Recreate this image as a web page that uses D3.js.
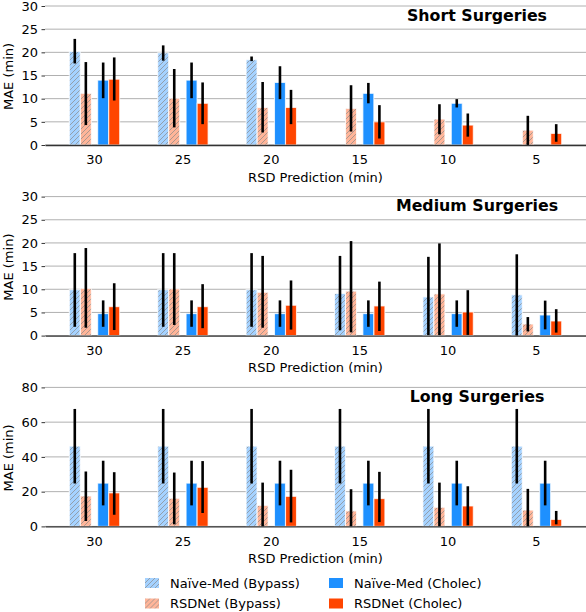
<!DOCTYPE html>
<html>
<head>
<meta charset="utf-8">
<script src="https://cdn.jsdelivr.net/npm/d3@7"></script>
<style>
  body { margin: 0; background: #fff; }
  text { font-family: "DejaVu Sans", sans-serif; }
</style>
</head>
<body>
<div id="chart"></div>
<script>
// x categories (RSD prediction horizon, minutes)
const rsdMinutes = [30, 25, 20, 15, 10, 5];

// short surgeries: bar values and [low, high] error bars
const shortNaiveBypass = [20.2, 19.9, 18.4, null, null, null];
const shortNaiveBypassErr = [[17.6, 22.9], [18.2, 21.5], [18.1, 19.1], null, null, null];
const shortRsdBypass = [11.15, 10.1, 8.1, 7.9, 5.6, 3.2];
const shortRsdBypassErr = [[4.3, 17.9], [3.8, 16.4], [2.7, 13.6], [2.9, 12.9], [2.3, 8.8], [0, 6.3]];
const shortNaiveCholec = [14.0, 14.0, 13.5, 11.15, 9.0, 0];
const shortNaiveCholecErr = [[10.1, 17.8], [10.1, 17.8], [9.9, 17.0], [9.0, 13.4], [8.1, 9.9], null];
const shortRsdCholec = [14.2, 9.0, 8.1, 5.0, 4.3, 2.5];
const shortRsdCholecErr = [[9.6, 18.9], [4.5, 13.5], [4.5, 11.9], [1.4, 8.6], [1.8, 6.8], [0.7, 4.5]];

// medium surgeries
const mediumNaiveBypass = [9.9, 9.9, 9.9, 9.1, 8.35, 8.8];
const mediumNaiveBypassErr = [[1.9, 17.8], [1.9, 17.8], [1.9, 17.8], [1.15, 17.2], [0.1, 17.0], [0, 17.55]];
const mediumRsdBypass = [10.2, 10.1, 9.35, 9.6, 9.0, 2.5];
const mediumRsdBypassErr = [[1.7, 18.9], [2.3, 17.8], [1.7, 17.2], [0.7, 20.4], [0.1, 19.9], [0.9, 4.0]];
const mediumNaiveCholec = [4.75, 4.75, 4.75, 4.75, 4.75, 4.45];
const mediumNaiveCholecErr = [[1.9, 7.6], [1.9, 7.6], [1.9, 7.6], [1.9, 7.6], [1.9, 7.6], [1.35, 7.55]];
const mediumRsdCholec = [6.25, 6.25, 6.55, 6.4, 5.1, 3.15];
const mediumRsdCholecErr = [[1.2, 11.3], [1.6, 11.1], [1.3, 11.9], [1.0, 11.65], [0.15, 9.8], [0.65, 5.7]];

// long surgeries
const longNaiveBypass = [46.2, 46.2, 46.2, 46.2, 46.2, 46.2];
const longNaiveBypassErr = [[24.7, 67.6], [24.7, 67.6], [24.7, 67.6], [24.7, 67.6], [24.7, 67.6], [24.7, 67.6]];
const longRsdBypass = [17.5, 16.2, 12.1, 8.9, 11.0, 9.4];
const longRsdBypassErr = [[3.1, 31.6], [1.2, 31.0], [0, 25.2], [0, 21.4], [0, 25.2], [0, 21.6]];
const longNaiveCholec = [24.9, 24.9, 24.9, 24.9, 24.9, 24.9];
const longNaiveCholecErr = [[12.1, 37.8], [12.1, 37.8], [12.1, 37.8], [12.1, 37.8], [12.1, 37.8], [12.1, 37.8]];
const longRsdCholec = [19.3, 22.5, 17.3, 16.0, 11.75, 4.0];
const longRsdCholecErr = [[6.7, 31.2], [7.7, 37.6], [2.3, 32.6], [2.5, 31.4], [0.6, 23.1], [1.2, 8.9]];

// y tick labels per panel
const shortTicks = [0, 5, 10, 15, 20, 25, 30];
const mediumTicks = [0, 5, 10, 15, 20, 25, 30];
const longTicks = [0, 20, 40, 60, 80];

const seriesNames = ["Naïve-Med (Bypass)", "RSDNet (Bypass)", "Naïve-Med (Cholec)", "RSDNet (Cholec)"];

// canvas sizes
const svgWidth = 586, svgHeight = 612;
const plotLeft = 45, plotRight = 586, plotHeight = 139;

// series look: offset in band, fill, hatched or not
const seriesStyle = [
  {offset: -0.223, fill: "#a5d2ff", hatch: "hatchBlue"},
  {offset: -0.098, fill: "#ffb599", hatch: "hatchOrange"},
  {offset: 0.098, fill: "#1e90ff", hatch: null},
  {offset: 0.223, fill: "#ff4500", hatch: null}
];
const barFrac = 0.124;

const panels = [
  {title: "Short Surgeries", top: 6, yMax: 30, ticks: shortTicks,
   values: [shortNaiveBypass, shortRsdBypass, shortNaiveCholec, shortRsdCholec],
   errs: [shortNaiveBypassErr, shortRsdBypassErr, shortNaiveCholecErr, shortRsdCholecErr]},
  {title: "Medium Surgeries", top: 196.6, yMax: 30, ticks: mediumTicks,
   values: [mediumNaiveBypass, mediumRsdBypass, mediumNaiveCholec, mediumRsdCholec],
   errs: [mediumNaiveBypassErr, mediumRsdBypassErr, mediumNaiveCholecErr, mediumRsdCholecErr]},
  {title: "Long Surgeries", top: 387.4, yMax: 80, ticks: longTicks,
   values: [longNaiveBypass, longRsdBypass, longNaiveCholec, longRsdCholec],
   errs: [longNaiveBypassErr, longRsdBypassErr, longNaiveCholecErr, longRsdCholecErr]}
];

var svg = d3.select("#chart")
    .append("svg")
    .attr("width", svgWidth)
    .attr("height", svgHeight);

// hatch patterns for the bypass bars
var defs = svg.append("defs");
[["hatchBlue", "#a5d2ff"], ["hatchOrange", "#ffb599"]].forEach(function(p){
    var pat = defs.append("pattern")
	.attr("id", p[0])
	.attr("patternUnits", "userSpaceOnUse")
	.attr("width", 5)
	.attr("height", 5);
    pat.append("rect").attr("width", 5).attr("height", 5).attr("fill", p[1]);
    pat.append("path")
	.attr("d", "M-1,1 L1,-1 M0,5 L5,0 M4,6 L6,4")
	.attr("stroke", "#8a8a8a")
	.attr("stroke-width", 0.7);
});

// x scale shared by all panels
var xScale = d3.scaleBand()
    .domain(rsdMinutes)
    .range([plotLeft, plotRight])
    .paddingInner(0)
    .paddingOuter(0.06);
var step = xScale.bandwidth();

panels.forEach(function(panel){
    var yScale = d3.scaleLinear()
	.domain([0, panel.yMax])
	.range([panel.top + plotHeight, panel.top]);

    var g = svg.append("g");

    // gridlines
    g.selectAll(".grid")
	.data(panel.ticks)
	.enter().append("line")
	.attr("x1", plotLeft)
	.attr("x2", plotRight)
	.attr("y1", function(d){ return yScale(d); })
	.attr("y2", function(d){ return yScale(d); })
	.attr("stroke", "#b0b0b0")
	.attr("stroke-width", 1);

    // bars
    seriesStyle.forEach(function(s, si){
	var rows = rsdMinutes.map(function(m, i){
	    return {m: m, v: panel.values[si][i], e: panel.errs[si][i]};
	});
	g.selectAll(".bar" + si)
	    .data(rows.filter(function(d){ return d.v != null && d.v > 0; }))
	    .enter().append("rect")
	    .attr("x", function(d){ return xScale(d.m) + step * (0.5 + s.offset - barFrac / 2); })
	    .attr("width", step * barFrac)
	    .attr("y", function(d){ return yScale(d.v); })
	    .attr("height", function(d){ return yScale(0) - yScale(d.v); })
	    .attr("fill", s.hatch ? "url(#" + s.hatch + ")" : s.fill)
	    .attr("stroke", "#fff")
	    .attr("stroke-opacity", 0.75)
	    .attr("stroke-width", 1.1);

	// error bars
	g.selectAll(".err" + si)
	    .data(rows.filter(function(d){ return d.e != null; }))
	    .enter().append("line")
	    .attr("x1", function(d){ return xScale(d.m) + step * (0.5 + s.offset); })
	    .attr("x2", function(d){ return xScale(d.m) + step * (0.5 + s.offset); })
	    .attr("y1", function(d){ return yScale(d.e[0]); })
	    .attr("y2", function(d){ return yScale(d.e[1]); })
	    .attr("stroke", "#000")
	    .attr("stroke-width", 2.6);
    });

    // y axis
    var yAxis = g.append("g")
	.attr("transform", "translate(" + plotLeft + ",0)")
	.call(d3.axisLeft(yScale).tickValues(panel.ticks).tickSize(3.5).tickPadding(3.5));
    yAxis.select(".domain").remove();
    yAxis.selectAll("line").attr("stroke", "#333");
    yAxis.selectAll("text").attr("font-size", "13px").attr("fill", "#000")
	.style("font-family", "DejaVu Sans");

    // x axis
    var xAxis = g.append("g")
	.attr("transform", "translate(0," + yScale(0) + ")")
	.call(d3.axisBottom(xScale).tickSize(0).tickSizeOuter(0).tickPadding(10));
    xAxis.select(".domain").attr("stroke", "#333").attr("stroke-width", 1.3);
    xAxis.selectAll("text").attr("font-size", "13px").attr("fill", "#000")
	.style("font-family", "DejaVu Sans");

    // labels
    g.append("text")
	.attr("x", (plotLeft + plotRight) / 2)
	.attr("y", yScale(0) + 36.5)
	.attr("font-size", "13px")
	.attr("text-anchor", "middle")
	.text("RSD Prediction (min)");

    g.append("text")
	.attr("transform", "translate(12.5," + (panel.top + plotHeight / 2 + 1) + ") rotate(-90)")
	.attr("font-size", "13px")
	.attr("text-anchor", "middle")
	.text("MAE (min)");

    g.append("text")
	.attr("x", 477)
	.attr("y", panel.top + 14.5)
	.attr("font-size", "15.8px")
	.attr("font-weight", "bold")
	.attr("text-anchor", "middle")
	.text(panel.title);
});

// legend, two columns
var legend = svg.append("g");
seriesNames.forEach(function(name, i){
    var col = Math.floor(i / 2), row = i % 2;
    var s = seriesStyle[i];
    var item = legend.append("g")
	.attr("transform", "translate(" + (145 + col * 184) + "," + (578 + row * 20.5) + ")");
    item.append("rect")
	.attr("width", 14)
	.attr("height", 10)
	.attr("fill", s.hatch ? "url(#" + s.hatch + ")" : s.fill);
    item.append("text")
	.attr("x", 25)
	.attr("y", 9.5)
	.attr("font-size", "13px")
	.text(name);
});
</script>
</body>
</html>
